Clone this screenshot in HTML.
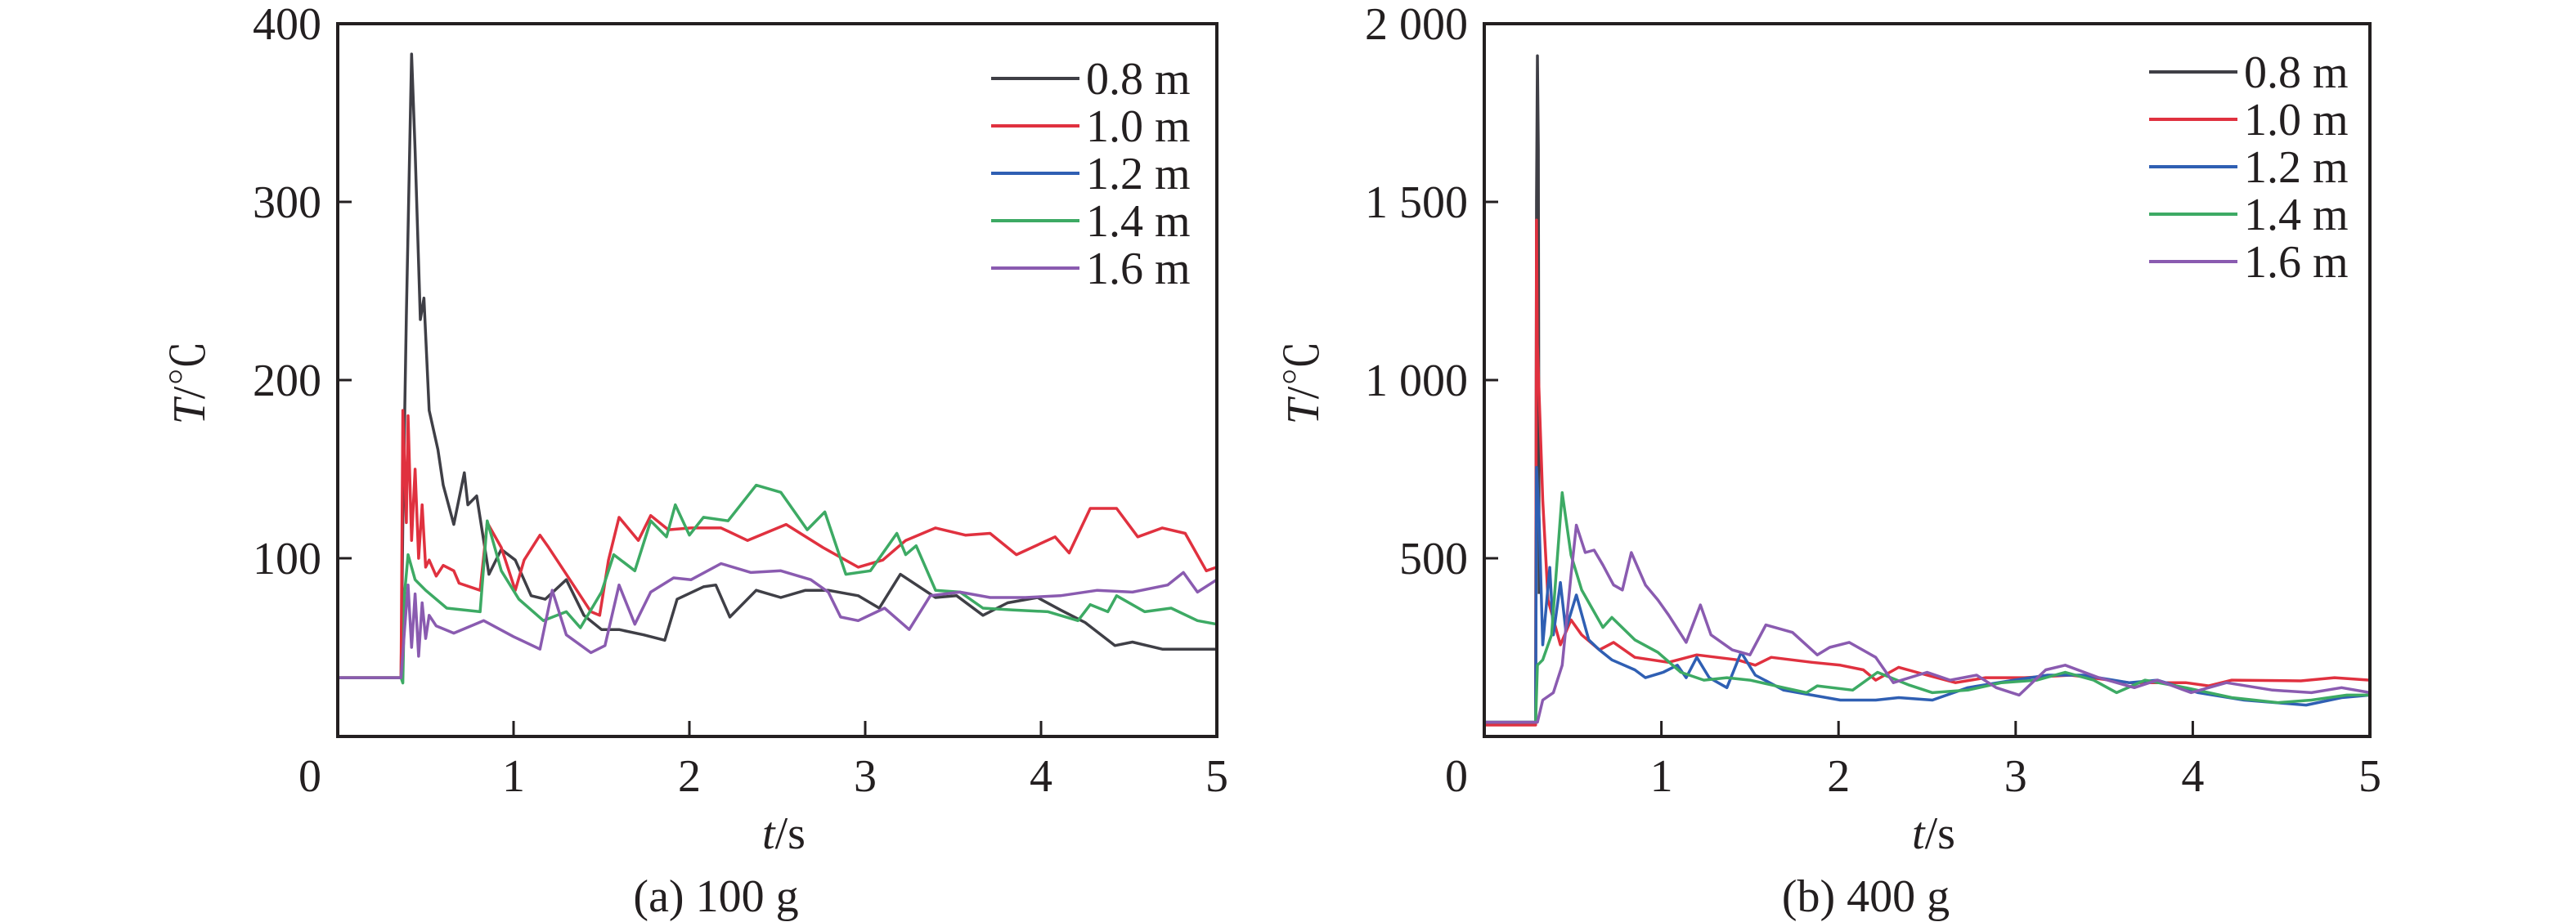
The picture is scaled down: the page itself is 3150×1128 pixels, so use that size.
<!DOCTYPE html>
<html><head><meta charset="utf-8"><style>
html,body{margin:0;padding:0;background:#fff;}
svg{display:block;font-family:"Liberation Serif","Noto Serif CJK SC",serif;}
</style></head><body>
<svg id="chart" width="3150" height="1128" viewBox="0 0 3150 1128" xmlns="http://www.w3.org/2000/svg"></svg>
<script>
const seriesNames = ["0.8 m","1.0 m","1.2 m","1.4 m","1.6 m"];
const seriesColors = ["#3f3f46","#e0313f","#2f5fb3","#3daa64","#8a5bb0"];
const xTicks = [1,2,3,4,5];
const yTicksA = [100,200,300,400];
const yTickLabelsA = ["100","200","300","400"];
const yTicksB = [500,1000,1500,2000];
const yTickLabelsB = ["500","1 000","1 500","2 000"];

// Panel (a) 100 g — [t, T]
const a08 = [[0,33],[0.36,33],[0.37,120],[0.39,236],[0.42,383],[0.44,329],[0.47,234],[0.49,246],[0.52,183],[0.57,161],[0.6,141],[0.66,119],[0.72,148],[0.74,130],[0.79,135],[0.86,91],[0.93,105],[1.01,99],[1.1,79],[1.18,77],[1.3,88],[1.4,68],[1.5,60],[1.6,60],[1.74,57],[1.86,54],[1.93,77],[2.08,84],[2.15,85],[2.23,67],[2.38,82],[2.52,78],[2.66,82],[2.79,82],[2.96,79],[3.08,72],[3.2,91],[3.4,78],[3.52,79],[3.67,68],[3.81,75],[3.98,78],[4.11,71],[4.25,64],[4.42,51],[4.52,53],[4.69,49],[4.86,49],[5,49]];
const a10 = [[0,33],[0.36,33],[0.37,183],[0.39,120],[0.40,180],[0.42,110],[0.44,150],[0.46,100],[0.48,130],[0.5,95],[0.52,99],[0.56,90],[0.6,96],[0.66,93],[0.69,86],[0.81,82],[0.85,120],[0.93,106],[1.01,82],[1.06,99],[1.15,113],[1.2,106],[1.3,91],[1.44,70],[1.49,68],[1.54,99],[1.6,123],[1.71,110],[1.78,124],[1.88,116],[2.01,117],[2.18,117],[2.33,110],[2.55,119],[2.76,106],[2.96,95],[3.1,99],[3.23,110],[3.4,117],[3.57,113],[3.71,114],[3.86,102],[4.08,112],[4.16,103],[4.28,128],[4.43,128],[4.55,112],[4.69,117],[4.82,114],[4.94,93],[5,95]];
const a12 = [];
const a14 = [[0,33],[0.36,33],[0.37,30],[0.38,80],[0.4,102],[0.44,88],[0.5,82],[0.62,72],[0.81,70],[0.85,121],[0.93,93],[1.03,77],[1.17,65],[1.3,70],[1.38,61],[1.5,81],[1.57,102],[1.69,93],[1.78,121],[1.87,112],[1.92,130],[2,113],[2.08,123],[2.22,121],[2.38,141],[2.52,137],[2.67,116],[2.77,126],[2.89,91],[3.03,93],[3.18,114],[3.23,102],[3.29,107],[3.4,82],[3.54,81],[3.67,72],[3.84,71],[4.04,70],[4.21,65],[4.28,74],[4.38,70],[4.43,79],[4.59,70],[4.74,72],[4.89,65],[5,63]];
const a16 = [[0,33],[0.36,33],[0.38,60],[0.4,85],[0.42,50],[0.44,80],[0.46,45],[0.48,75],[0.5,55],[0.52,68],[0.56,62],[0.66,58],[0.83,65],[1.0,56],[1.15,49],[1.22,82],[1.3,57],[1.44,47],[1.52,51],[1.6,85],[1.69,63],[1.78,81],[1.91,89],[2.01,88],[2.18,97],[2.35,92],[2.52,93],[2.69,88],[2.79,81],[2.86,67],[2.96,65],[3.11,72],[3.25,60],[3.37,79],[3.54,81],[3.71,78],[3.91,78],[4.11,79],[4.32,82],[4.52,81],[4.72,85],[4.81,92],[4.89,81],[5,88]];

// Panel (b) 400 g — [t, T]
const b08 = [[0,40],[0.29,40],[0.295,1500],[0.30,1910],[0.305,1650],[0.31,400]];
const b10 = [[0,32],[0.29,32],[0.295,1449],[0.30,1100],[0.33,663],[0.36,383],[0.43,257],[0.49,327],[0.55,285],[0.65,243],[0.73,264],[0.85,222],[1.04,208],[1.2,229],[1.43,215],[1.53,200],[1.62,222],[1.85,208],[2.01,200],[2.14,187],[2.21,158],[2.34,194],[2.5,172],[2.66,151],[2.83,165],[3.05,165],[3.31,172],[3.64,151],[3.96,151],[4.09,142],[4.22,158],[4.61,156],[4.8,165],[5,158]];
const b12 = [[0,40],[0.29,40],[0.295,755],[0.31,607],[0.33,257],[0.37,474],[0.39,285],[0.43,432],[0.46,299],[0.52,397],[0.59,271],[0.65,243],[0.72,215],[0.85,187],[0.91,165],[1.01,180],[1.09,200],[1.14,165],[1.2,222],[1.27,165],[1.37,137],[1.45,236],[1.53,172],[1.69,130],[1.85,116],[2.01,102],[2.21,102],[2.34,109],[2.53,102],[2.73,137],[2.99,158],[3.18,172],[3.38,172],[3.64,151],[3.8,158],[4.03,123],[4.29,102],[4.64,88],[4.84,109],[5,116]];
const b14 = [[0,40],[0.29,40],[0.30,200],[0.33,215],[0.38,285],[0.44,684],[0.49,509],[0.55,411],[0.67,306],[0.72,334],[0.85,271],[0.98,236],[1.11,180],[1.24,158],[1.37,165],[1.5,158],[1.69,137],[1.82,123],[1.88,142],[2.08,130],[2.22,180],[2.4,144],[2.53,123],[2.73,130],[2.92,151],[3.12,158],[3.28,180],[3.44,158],[3.57,123],[3.73,158],[3.96,137],[4.22,109],[4.48,95],[4.67,102],[4.87,116],[5,116]];
const b16 = [[0,40],[0.30,40],[0.33,102],[0.39,123],[0.44,200],[0.49,453],[0.52,593],[0.57,516],[0.62,523],[0.67,481],[0.73,425],[0.78,411],[0.83,516],[0.91,425],[0.98,383],[1.04,341],[1.14,264],[1.22,369],[1.28,285],[1.4,243],[1.5,229],[1.59,313],[1.74,292],[1.88,229],[1.95,250],[2.06,264],[2.21,222],[2.31,151],[2.5,180],[2.63,158],[2.78,172],[2.89,137],[3.02,116],[3.17,187],[3.28,200],[3.47,165],[3.67,137],[3.8,158],[3.99,123],[4.19,151],[4.45,130],[4.67,123],[4.84,137],[5,123]];

const NS = "http://www.w3.org/2000/svg";
const svg = document.getElementById("chart");
function mk(tag, attrs, parent){ const e=document.createElementNS(NS,tag); for(const k in attrs) e.setAttribute(k,attrs[k]); (parent||svg).appendChild(e); return e; }

function panel(cfg){
  const g = mk("g",{});
  
  
  const L=cfg.left, R=cfg.right, T=29, B=901;
  const xs = t => L + (t/5)*(R-L);
  const ys = v => B - (v/cfg.ymax)*(B-T);
  // series
  cfg.series.forEach((data,i)=>{
    if(!data.length) return;
    const p = mk("polyline",{points:data.map(d=>xs(d[0]).toFixed(1)+","+ys(d[1]).toFixed(1)).join(" "),fill:"none",stroke:seriesColors[i],"stroke-width":3.5,"stroke-linejoin":"round"},g);
    
    
  });
  // frame
  const fr = mk("rect",{x:L,y:T,width:R-L,height:B-T,fill:"none",stroke:"#231f20","stroke-width":4},g);
  
  
  // x ticks
  xTicks.forEach(t=>{
    const tk = mk("line",{x1:xs(t),x2:xs(t),y1:B,y2:B-19,stroke:"#231f20","stroke-width":3},g);
    
    
    const tl = mk("text",{x:xs(t),y:968,"font-size":56,"text-anchor":"middle",fill:"#231f20"},g);
    tl.textContent = String(t);
    
    
  });
  const zl = mk("text",{x:L-20,y:968,"font-size":56,"text-anchor":"end",fill:"#231f20"},g);
  zl.textContent="0";
  
  
  // y ticks
  cfg.yt.forEach((v,i)=>{
    const tk = mk("line",{x1:L,x2:L+17,y1:ys(v),y2:ys(v),stroke:"#231f20","stroke-width":3},g);
    
    
    const tl = mk("text",{x:L-20,y:ys(v)+19,"font-size":56,"text-anchor":"end",fill:"#231f20"},g);
    tl.textContent = cfg.ytl[i];
    
    
  });
  // axis titles
  const xt = mk("text",{x:(L+R)/2+8,y:1038,"font-size":56,"text-anchor":"middle",fill:"#231f20"},g);
  xt.innerHTML = '<tspan font-style="italic">t</tspan>/s';
  
  
  const yt = mk("text",{x:0,y:0,"font-size":56,"text-anchor":"middle",fill:"#231f20",transform:`translate(${cfg.ytx},468) rotate(-90)`},g);
  yt.innerHTML = '<tspan font-style="italic">T</tspan>/℃';
  
  
  const cap = mk("text",{x:(L+R)/2-75,y:1115,"font-size":56,"text-anchor":"middle",fill:"#231f20"},g);
  cap.textContent = cfg.caption;
  
  
  // legend
  seriesNames.forEach((n,i)=>{
    const yy = cfg.legY + i*58;
    const lg = mk("g",{},g);
    
    
    mk("line",{x1:cfg.legX,x2:cfg.legX+108,y1:yy,y2:yy,stroke:seriesColors[i],"stroke-width":4},lg);
    const lt = mk("text",{x:cfg.legX+116,y:yy+19,"font-size":56,fill:"#231f20"},lg);
    lt.textContent = n;
  });
}
panel({name:"panel-a-100g",left:413,right:1488,ymax:400,yt:yTicksA,ytl:yTickLabelsA,series:[a08,a10,a12,a14,a16],caption:"(a) 100 g",ytx:250,legX:1212,legY:96});
panel({name:"panel-b-400g",left:1815,right:2898,ymax:2000,yt:yTicksB,ytl:yTickLabelsB,series:[b08,b10,b12,b14,b16],caption:"(b) 400 g",ytx:1612,legX:2628,legY:88});
</script>
</body></html>
